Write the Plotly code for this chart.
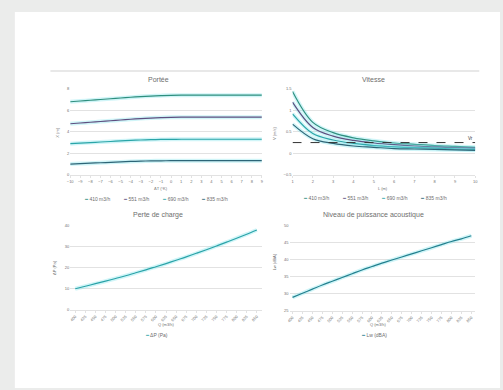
import plotly.graph_objects as go

# Portée
dt = list(range(-10, 10))
portee_names = ['410 m3/h', '551 m3/h', '690 m3/h', '835 m3/h']
portee_1 = [6.80, 6.87, 6.94, 7.01, 7.08, 7.15, 7.22, 7.28, 7.33, 7.37, 7.40, 7.41, 7.41, 7.41, 7.41, 7.41, 7.41, 7.41, 7.41, 7.41]
portee_2 = [4.75, 4.82, 4.89, 4.96, 5.03, 5.10, 5.17, 5.23, 5.28, 5.32, 5.35, 5.36, 5.36, 5.36, 5.36, 5.36, 5.36, 5.36, 5.36, 5.36]
portee_3 = [2.90, 2.95, 3.00, 3.05, 3.10, 3.15, 3.20, 3.24, 3.27, 3.29, 3.30, 3.31, 3.31, 3.31, 3.31, 3.31, 3.31, 3.31, 3.31, 3.31]
portee_4 = [1.00, 1.04, 1.08, 1.12, 1.16, 1.20, 1.24, 1.27, 1.29, 1.30, 1.31, 1.31, 1.31, 1.31, 1.31, 1.31, 1.31, 1.31, 1.31, 1.31]

# Vitesse
dist = [1, 2, 3, 4, 5, 6, 7, 8, 9, 10]
vit_1 = [1.44, 0.72, 0.48, 0.36, 0.29, 0.24, 0.21, 0.18, 0.16, 0.14]
vit_2 = [1.19, 0.60, 0.40, 0.30, 0.24, 0.20, 0.17, 0.15, 0.13, 0.12]
vit_3 = [0.92, 0.46, 0.31, 0.23, 0.18, 0.15, 0.13, 0.12, 0.10, 0.09]
vit_4 = [0.68, 0.34, 0.23, 0.17, 0.14, 0.11, 0.10, 0.09, 0.08, 0.07]
vr = [0.25] * len(dist)

# Perte de charge / puissance acoustique
debits = ['400', '425', '450', '475', '500', '525', '550', '575', '600', '625',
          '650', '675', '700', '725', '750', '775', '800', '825', '850']
delta_p = [10.0, 11.2, 12.4, 13.6, 14.9, 16.2, 17.6, 19.0, 20.5, 22.0,
           23.6, 25.2, 26.9, 28.6, 30.4, 32.2, 34.1, 36.0, 38.0]
lw = [28.9, 30.1, 31.3, 32.5, 33.6, 34.7, 35.8, 36.9, 37.9, 38.9,
      39.8, 40.7, 41.6, 42.5, 43.4, 44.3, 45.2, 46.0, 46.9]

couleurs = ['#2e8f7e', '#5e4f80', '#2aa5a8', '#2d6577']
glow = 'rgba(120,225,235,0.35)'
gris = '#6e6e6e'
grille = '#e2e2e2'
W, H = 503, 390

fig = go.Figure()


def ajout(x, y, col, xa, ya, larg=1.2):
    # halo clair sous la courbe, puis la courbe
    fig.add_trace(go.Scatter(x=x, y=y, mode='lines', line=dict(color=glow, width=4, shape='spline'),
                             xaxis=xa, yaxis=ya, showlegend=False, hoverinfo='skip'))
    fig.add_trace(go.Scatter(x=x, y=y, mode='lines', line=dict(color=col, width=larg, shape='spline'),
                             xaxis=xa, yaxis=ya, showlegend=False))


for serie, col in zip([portee_1, portee_2, portee_3, portee_4], couleurs):
    ajout(dt, serie, col, 'x', 'y')

for serie, col in zip([vit_1, vit_2, vit_3, vit_4], couleurs):
    ajout(dist, serie, col, 'x2', 'y2')
fig.add_trace(go.Scatter(x=dist, y=vr, mode='lines', line=dict(color='#333333', width=1, dash='dash'),
                         xaxis='x2', yaxis='y2', showlegend=False))

ajout(debits, delta_p, '#2aa3a8', 'x3', 'y3')
ajout(debits, lw, '#23808f', 'x4', 'y4')


def px_x(p):
    return p / W


def px_y(p):
    return 1 - p / H


tick_font = dict(size=4, color=gris)

axe_x = dict(showgrid=False, showline=True, linecolor=grille, ticks='outside', ticklen=2,
             tickcolor=grille, tickfont=tick_font, zeroline=False)
axe_y = dict(showgrid=True, gridcolor=grille, gridwidth=0.8, showline=False, ticks='',
             tickfont=tick_font, zeroline=False)

fig.update_layout(
    width=W, height=H,
    margin=dict(l=0, r=0, t=0, b=0),
    paper_bgcolor='#ebeceb',
    plot_bgcolor='rgba(0,0,0,0)',
    font=dict(family='Liberation Sans, Arial, sans-serif', color=gris),
    xaxis=dict(axe_x, domain=[px_x(68), px_x(262)], range=[-10, 9], tickvals=dt, anchor='y'),
    yaxis=dict(axe_y, domain=[px_y(174), px_y(87)], range=[0, 8], dtick=2, anchor='x'),
    xaxis2=dict(axe_x, domain=[px_x(293), px_x(478)], range=[1, 10], dtick=1, anchor='y2'),
    yaxis2=dict(axe_y, domain=[px_y(174), px_y(87)], range=[-0.5, 1.5], dtick=0.5, anchor='x2'),
    xaxis3=dict(axe_x, domain=[px_x(68), px_x(262)], range=[-0.5, len(debits) - 0.5],
                tickangle=-45, type='category', anchor='y3'),
    yaxis3=dict(axe_y, domain=[px_y(310.7), px_y(225.7)], range=[0, 40], dtick=10, anchor='x3'),
    xaxis4=dict(axe_x, domain=[px_x(290), px_x(478)], range=[-0.3, len(debits) - 0.6],
                tickangle=-45, type='category', anchor='y4'),
    yaxis4=dict(axe_y, domain=[px_y(311.7), px_y(225)], range=[25, 50], dtick=5, anchor='x4'),
)

fig.add_shape(type='rect', xref='paper', yref='paper', x0=px_x(12), x1=1, y0=0, y1=px_y(9),
              fillcolor='white', line=dict(width=0), layer='below')
fig.add_shape(type='line', xref='paper', yref='paper', x0=px_x(48), x1=px_x(482), y0=px_y(69), y1=px_y(69),
              line=dict(color='#e0e0e0', width=1.5), layer='below')


def texte(txt, x, y, taille, angle=0, col=gris):
    fig.add_annotation(text=txt, xref='paper', yref='paper', x=px_x(x), y=px_y(y),
                       xanchor='center', yanchor='middle', textangle=angle,
                       showarrow=False, font=dict(size=taille, color=col))


# titres
texte('Portée', 157, 77, 7)
texte('Vitesse', 375, 77, 7)
texte('Perte de charge', 157, 215, 7)
texte('Niveau de puissance acoustique', 375, 215, 7)

# titres des axes
texte('ΔT (°K)', 160, 188, 4)
texte('L (m)', 385, 188, 4)
texte('Q (m3/h)', 165, 326, 4)
texte('Q (m3/h)', 380, 326, 4)
texte('X (m)', 55, 131, 4, -90)
texte('V (m/s)', 275, 132, 4, -90)
texte('ΔP (Pa)', 52, 268, 4, -90)
texte('Lw (dBA)', 275, 262, 4, -90)


def legende(noms, cols, xc, y):
    parts = ['<span style="color:%s">━</span> %s' % (c, n) for n, c in zip(noms, cols)]
    texte('          '.join(parts), xc, y, 5)


legende(portee_names, couleurs, 155, 199)
legende(portee_names, couleurs, 376, 198)
legende(['ΔP (Pa)'], ['#2aa3a8'], 155, 336)
legende(['Lw (dBA)'], ['#23808f'], 375, 336)

fig.add_annotation(text='Vr', xref='x2', yref='y2', x=10, y=0.25, xanchor='right', yanchor='bottom',
                   showarrow=False, font=dict(size=4.5, color='#333333'))

fig.write_html('out.html', config={'displayModeBar': False},
               post_script="document.body.style.margin='0';")
